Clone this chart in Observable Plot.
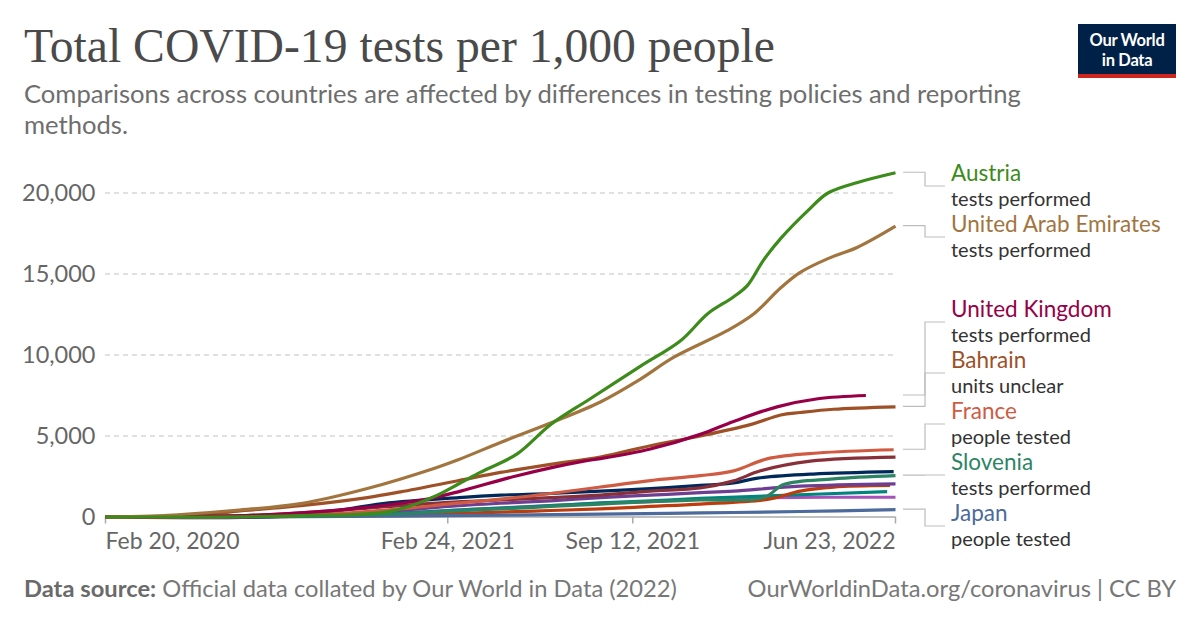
<!DOCTYPE html>
<html>
<head>
<meta charset="utf-8">
<script src="https://cdn.jsdelivr.net/npm/d3@7"></script>
<script src="https://cdn.jsdelivr.net/npm/@observablehq/plot@0.6"></script>
<style>
  html, body { margin:0; padding:0; background:#fff; }
  body { width:1200px; height:628px; position:relative; overflow:hidden; font-family: Lato, "Noto Sans", sans-serif; }
  #title { position:absolute; left:24px; top:24px; font-family:"Liberation Serif", "DejaVu Serif", serif; font-size:46px; line-height:1; color:#4a4a4a; white-space:nowrap; }
  #subtitle { position:absolute; left:24px; top:79px; font-size:23px; line-height:31px; color:#6e6e6e; white-space:nowrap; }
  #logo { position:absolute; left:1078px; top:24px; width:98px; height:54px; background:#002147; border-bottom:4px solid #ce261e; box-sizing:border-box; color:#fff; font-weight:700; font-size:16.5px; line-height:20px; text-align:center; padding-top:6px; letter-spacing:-0.3px; }
  #chart { position:absolute; left:0; top:150px; }
  #footer-left { position:absolute; left:24px; font-size:23.5px; color:#777; white-space:nowrap; }
  #footer-left b { color:#6a6a6a; font-weight:700; }
  #footer-right { position:absolute; right:24px; font-size:23.5px; color:#777; white-space:nowrap; }
</style>
</head>
<body>
<div id="title">Total COVID-19 tests per 1,000 people</div>
<div id="subtitle"><span id="sub1">Comparisons across countries are affected by differences in testing policies and reporting</span><br><span>methods.</span></div>
<div id="logo">Our World<br>in Data</div>
<div id="chart"></div>
<div id="footer-left"><span id="fl"><b>Data source:</b> Official data collated by Our World in Data (2022)</span></div>
<div id="footer-right"><span id="fr">OurWorldinData.org/coronavirus | CC BY</span></div>
<script>
// ---------------- DATA ----------------
const austria = [["2020-02-20",0],["2020-09-18",80],["2020-12-24",350],["2021-02-07",1200],["2021-03-08",2050],["2021-03-31",2750],["2021-05-10",3900],["2021-06-15",5700],["2021-07-28",7300],["2021-09-20",9300],["2021-11-03",10900],["2021-12-02",12550],["2021-12-29",13550],["2022-01-14",14300],["2022-01-31",15830],["2022-02-19",17200],["2022-03-20",18900],["2022-04-11",20000],["2022-05-13",20650],["2022-06-23",21250]];
const uae = [["2020-02-20",0],["2020-04-09",50],["2020-07-07",400],["2020-09-18",830],["2020-11-29",1760],["2021-02-09",3000],["2021-03-08",3550],["2021-04-22",4600],["2021-06-15",5800],["2021-08-08",7100],["2021-09-20",8500],["2021-10-26",9850],["2021-12-23",11500],["2022-01-21",12550],["2022-02-19",14150],["2022-03-12",15100],["2022-04-11",15950],["2022-05-13",16650],["2022-06-23",17950]];
const uk = [["2020-02-20",0],["2020-07-26",100],["2020-09-18",250],["2020-11-11",500],["2021-01-04",850],["2021-02-02",1100],["2021-03-10",1600],["2021-05-10",2550],["2021-07-21",3450],["2021-08-08",3600],["2021-10-01",4200],["2021-11-24",5100],["2021-12-30",5900],["2022-02-15",6800],["2022-03-31",7300],["2022-05-22",7500]];
const bahrain = [["2020-02-20",0],["2020-04-09",30],["2020-06-02",150],["2020-07-20",400],["2020-09-18",700],["2020-11-29",1200],["2021-01-04",1550],["2021-03-08",2250],["2021-04-22",2750],["2021-06-15",3250],["2021-08-08",3700],["2021-10-01",4400],["2021-11-24",5000],["2022-01-17",5700],["2022-02-19",6300],["2022-03-12",6450],["2022-04-17",6650],["2022-06-23",6800]];
const france = [["2020-02-20",0],["2020-09-18",100],["2021-01-04",500],["2021-02-24",800],["2021-04-22",1100],["2021-06-15",1450],["2021-08-08",1850],["2021-10-01",2250],["2021-11-24",2550],["2021-12-30",2850],["2022-02-05",3600],["2022-03-31",3950],["2022-06-21",4150]];
const slovenia = [["2020-02-20",0],["2020-09-18",50],["2021-01-04",200],["2021-02-24",350],["2021-04-22",500],["2021-06-15",650],["2021-08-08",800],["2021-10-01",950],["2021-11-24",1050],["2022-02-01",1200],["2022-02-22",2000],["2022-04-17",2350],["2022-06-23",2550]];
const japan = [["2020-02-20",0],["2020-09-18",20],["2021-02-24",80],["2021-08-08",180],["2021-11-24",250],["2022-03-12",340],["2022-06-23",450]];
const otherDarkRed = [["2020-02-20",0],["2020-07-26",100],["2020-09-18",250],["2021-01-04",700],["2021-02-24",900],["2021-04-22",1050],["2021-06-15",1200],["2021-08-08",1350],["2021-10-01",1600],["2021-11-24",1800],["2021-12-30",2230],["2022-01-28",2850],["2022-03-23",3450],["2022-06-23",3700]];
const otherNavy = [["2020-02-20",0],["2020-09-18",100],["2020-12-16",830],["2021-03-08",1200],["2021-04-22",1350],["2021-06-15",1450],["2021-08-08",1600],["2021-10-01",1750],["2021-11-24",1950],["2021-12-30",2100],["2022-01-25",2400],["2022-03-26",2650],["2022-06-21",2800]];
const otherPurple = [["2020-02-20",0],["2020-09-18",80],["2021-01-04",400],["2021-02-24",650],["2021-04-22",850],["2021-06-15",1000],["2021-08-08",1200],["2021-10-01",1350],["2021-11-24",1500],["2021-12-30",1600],["2022-03-12",1900],["2022-06-23",2050]];
const otherTeal = [["2020-02-20",0],["2020-09-18",50],["2021-01-04",250],["2021-02-24",400],["2021-04-22",550],["2021-06-15",700],["2021-08-08",870],["2021-10-01",1000],["2021-11-24",1150],["2022-02-06",1300],["2022-06-14",1570]];
const otherOrange = [["2020-02-20",0],["2020-09-18",30],["2021-01-04",120],["2021-02-24",200],["2021-04-22",300],["2021-06-15",400],["2021-08-08",500],["2021-10-01",650],["2021-11-24",800],["2022-02-06",1100],["2022-03-12",1600],["2022-04-17",1850],["2022-06-17",1950]];
const otherPink = [["2020-02-20",0],["2020-09-18",50],["2021-01-04",250],["2021-02-24",400],["2021-04-22",550],["2021-06-15",700],["2021-08-08",850],["2021-10-01",950],["2021-11-24",1100],["2022-02-06",1200],["2022-06-23",1220]];

// draw order: first drawn at the bottom
const seriesNames = ["Other A","Other B","Other C","Other D","Other E","Other F","Japan","Slovenia","France","Bahrain","United Kingdom","United Arab Emirates","Austria"];
const seriesData  = [otherPink, otherTeal, otherOrange, otherPurple, otherNavy, otherDarkRed, japan, slovenia, france, bahrain, uk, uae, austria];
const seriesColors = ["#a652ba","#00847e","#bc3c0d","#6d3e91","#00295b","#883039","#4c6a9c","#2c8465","#cf5b43","#9e5027","#970046","#a2753f","#3d8b1a"];

const labeledNames = ["Austria","United Arab Emirates","United Kingdom","Bahrain","France","Slovenia","Japan"];
const labeledUnits = ["tests performed","tests performed","tests performed","units unclear","people tested","tests performed","people tested"];

const xTickLabels = ["2020-02-20","2021-02-24","2021-09-12","2022-06-23"];
const yTickValues = [0,5000,10000,15000,20000];

// ---------------- BUILD ----------------
const parse = d3.utcParse("%Y-%m-%d");
const fmt = d3.utcFormat("%b %-d, %Y");
const rows = [];
seriesNames.forEach((name, i) => {
  for (const [d, v] of seriesData[i]) rows.push({country: name, date: parse(d), value: v});
});
const xTicks = xTickLabels.map(parse);

const W = 1200, H = 410, mL = 105, mR = 305, mT = 42.5, mB = 43.5;
const tickText = {fill:"#666", fontSize:23, y:0, dy:25};

const plot = Plot.plot({
  width: W, height: H,
  marginLeft: mL, marginRight: mR, marginTop: mT, marginBottom: mB,
  x: {type:"utc", domain:[xTicks[0], xTicks[xTicks.length-1]]},
  y: {domain:[0,20000]},
  color: {domain: seriesNames, range: seriesColors},
  style: {fontFamily:"Lato, sans-serif", fontSize:"23px", color:"#666", background:"transparent", overflow:"visible"},
  marks: [
    Plot.gridY(yTickValues.filter(d => d > 0), {stroke:"#d6d6d6", strokeOpacity:1, strokeWidth:1.4, strokeDasharray:"5,4"}),
    Plot.axisX({ticks: xTicks, tickSize:7, tickFormat: () => "", stroke:"#aaa", strokeWidth:1.5, label:null}),
    Plot.ruleY([0], {stroke:"#aaa", strokeWidth:1.5}),
    Plot.axisY({ticks: yTickValues, tickSize:0, tickPadding:10, tickFormat: d3.format(","), fill:"#666", fontSize:23.5, label:null}),
    Plot.lineY(rows, {x:"date", y:"value", z:"country", stroke:"country", strokeWidth:3.2, curve:"catmull-rom", strokeLinejoin:"round", strokeLinecap:"butt"}),
    Plot.text(xTicks.slice(0,1), {...tickText, x:d=>d, text:fmt, textAnchor:"start"}),
    Plot.text(xTicks.slice(1,-1), {...tickText, x:d=>d, text:fmt, textAnchor:"middle"}),
    Plot.text(xTicks.slice(-1), {...tickText, x:d=>d, text:fmt, textAnchor:"end"})
  ]
});
document.getElementById("chart").appendChild(plot);

// ---------------- END LABELS ----------------
const ySc = plot.scale("y");
const yPix = ySc.apply ? (v => ySc.apply(v)) : d3.scaleLinear(ySc.domain, ySc.range);
const labels = labeledNames.map((name, i) => {
  const idx = seriesNames.indexOf(name);
  const data = seriesData[idx];
  const last = data[data.length-1][1];
  return {name, unit: labeledUnits[i], color: seriesColors[idx], yEnd: yPix(last)};
}).sort((a,b) => a.yEnd - b.yEnd);
const gap = 51, minMid = 36, maxMid = 376;
labels.forEach(l => l.mid = Math.max(minMid, Math.min(maxMid, l.yEnd)));
for (let i = 1; i < labels.length; i++) labels[i].mid = Math.max(labels[i].mid, labels[i-1].mid + gap);
labels[labels.length-1].mid = Math.min(labels[labels.length-1].mid, maxMid);
for (let i = labels.length-2; i >= 0; i--) labels[i].mid = Math.min(labels[i].mid, labels[i+1].mid - gap);

const svg = d3.select(plot);
const g = svg.append("g").attr("text-anchor","start");
const x0 = W - mR + 8, xBend = 925, xText = 951;
labels.forEach(l => {
  g.append("path").attr("d", `M${x0},${l.yEnd}H${xBend}V${l.mid}H${xText-6}`)
    .attr("fill","none").attr("stroke","#bdbdbd").attr("stroke-width",1.2);
  g.append("text").attr("x", xText).attr("y", l.mid - 5).attr("fill", l.color).attr("text-anchor","start")
    .attr("font-size", 22.5).attr("font-family","Lato, sans-serif").text(l.name);
  g.append("text").attr("x", xText).attr("y", l.mid + 19.5).attr("fill", "#333").attr("text-anchor","start")
    .attr("font-size", 20).attr("font-family","Lato, sans-serif").text(l.unit);
});

// ---------------- FIT HEADER / FOOTER TEXT ----------------
function fitWidth(el, target) {
  const w = el.getBoundingClientRect().width;
  const fs = parseFloat(getComputedStyle(el).fontSize);
  return fs * target / w;
}
const title = document.getElementById("title");
const tfs = fitWidth(title, 751);
title.style.fontSize = tfs + "px";
title.style.top = (63 - 0.8375 * tfs) + "px";
const sub = document.getElementById("subtitle");
const sfs = fitWidth(document.getElementById("sub1"), 997);
sub.style.fontSize = sfs + "px";
sub.style.top = (103 - 15.5 - 0.387 * sfs) + "px";
const fl = document.getElementById("footer-left");
const ffs = fitWidth(document.getElementById("fl"), 653);
fl.style.fontSize = ffs + "px";
fl.style.lineHeight = "1.2";
fl.style.top = (597 - 0.987 * ffs) + "px";
const fr = document.getElementById("footer-right");
fr.style.fontSize = ffs + "px";
fr.style.lineHeight = "1.2";
fr.style.top = (597 - 0.987 * ffs) + "px";
</script>
</body>
</html>
